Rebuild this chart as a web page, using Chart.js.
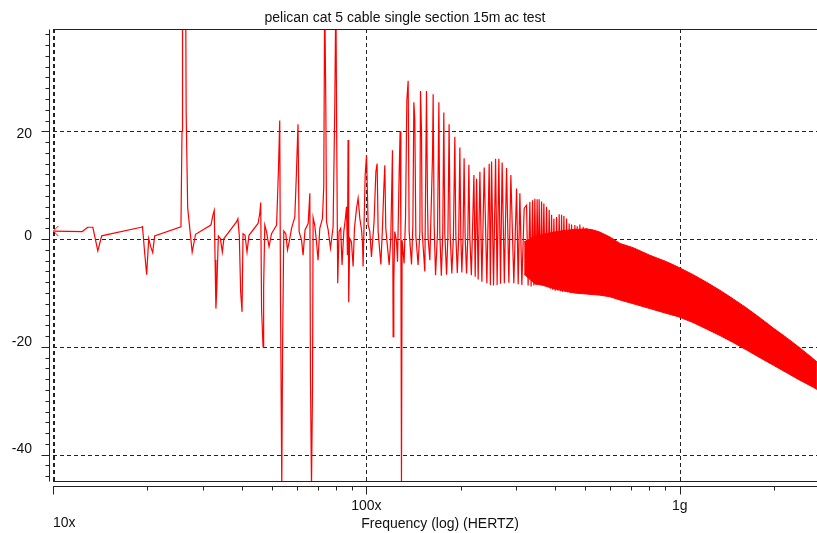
<!DOCTYPE html>
<html>
<head>
<meta charset="utf-8">
<title>pelican cat 5 cable single section 15m ac test</title>
<script src="https://cdn.jsdelivr.net/npm/chart.js@4/dist/chart.umd.min.js"></script>
<style>
  body { margin: 0; background: #fff; }
  #wrap { width: 817px; height: 533px; }
</style>
</head>
<body>
<div id="wrap"><canvas id="sweep" width="817" height="533"></canvas></div>
<script>
var chartTitle = 'pelican cat 5 cable single section 15m ac test';
var axisTitle = 'Frequency (log) (HERTZ)';

// swept trace: frequency and level
var freq = [
  10.1, 12.4, 12.9, 13.4, 13.9, 14.3, 19.1, 19.3, 19.6, 19.9, 20.2, 20.5, 20.8, 21.1,
  25.6, 25.8, 25.9, 26.5, 26.6, 26.9, 27.8, 28.5, 31.9,
  32.4, 32.7, 32.9, 33.1, 33.3, 33.7, 34.2, 34.7, 35.1, 38.5, 38.9, 39.3, 39.7, 40.1,
  40.4, 41.0, 41.6, 42.2, 45.1, 45.7, 46.0, 46.3, 46.8, 47.0, 47.4, 48.0, 48.9, 49.8,
  51.7, 52.4, 52.9, 53.2, 53.7, 54.0, 54.5, 55.3, 56.0, 56.7, 57.7, 59.1, 59.8, 60.5,
  61.0, 62.1, 62.8, 63.7, 65.2, 66.0, 66.3, 66.8, 67.3, 67.6, 68.4, 69.3, 70.1, 71.0,
  72.4, 73.1, 73.6, 74.2, 74.6, 75.5, 76.8, 78.3, 79.3, 79.9, 80.4, 81.0, 81.8, 82.8,
  83.6, 84.7, 85.8, 86.4, 87.0, 87.4, 87.8, 88.5, 89.6, 90.7, 91.6, 93.0, 94.1, 95.3,
  96.5, 97.2, 97.6, 99.1, 100.1, 101.3,
  102.5, 103.8, 105.8, 107.2, 108.2, 109.0, 111.2, 112.5, 113.6, 114.5, 115.3, 118.2,
  119.6, 121.1, 121.7, 122.3, 123.2, 124.8, 125.7, 127.2, 128.1, 128.8, 129.4, 130.0,
  131.9, 133.3, 134.6, 135.9, 136.9, 139.3, 140.7, 141.7, 142.7, 143.8, 146.2, 148.1,
  148.8, 149.9, 150.6, 153.6, 155.5, 156.7, 157.4, 159.4, 162.6, 163.3, 164.5, 166.2,
  168.6, 170.3, 171.5, 173.4, 175.2, 176.6, 177.9, 180.2, 182.0, 183.6, 185.0, 187.3,
  189.5, 191.5, 192.9, 195.0, 197.0, 198.7, 200.1, 201.6, 203.4, 205.0, 206.6, 208.7,
  210.6, 212.3, 213.8, 216.2, 220.3, 222.4, 224.7, 227.3, 230.2, 233.6, 237.6, 242.3,
  246.5, 248.6, 250.8, 254.5, 258.3, 261.3, 264.6, 267.9, 271.1, 275.5, 280.0, 284.8,
  289.0, 295.4, 301.4, 305.0, 308.8, 313.3, 318.7,
  324.3, 328.1, 332.3, 335.4, 339.0, 342.2, 344.7, 347.8, 350.6, 353.2, 355.8, 359.0,
  362.2, 365.1, 368.3, 371.9, 375.7, 379.3, 383.0, 386.4, 389.8, 393.0, 396.5, 400.3,
  404.4, 408.3, 412.2, 415.9, 419.5, 422.9, 426.7, 430.8, 435.2, 439.4, 443.6, 447.5,
  451.5, 456.8, 462.5, 466.6, 470.4, 474.9, 479.8, 485.9, 491.6, 497.8, 504.1
];
var level = [
  1.5, 1.4, 2.2, 2.2, -2.2, 0.6, 2.2, 2.3, -2.4, -6.6, 0.1, -1.4, -2.5, 0.6,
  2.3, 20, 46, 46, 23.5, 5.8, -2.4, 0.9, 2.6,
  4.5, 5.3, -3.9, -12.9, -9.5, 0.6, 0.1, -2.4, 0.1, 3.2, 3.8, 0.7, -9.8, -13.5,
  1.0, 0.7, -2.4, 0.7, 2.9, 4.8, 6.8, -13.2, -20, -8.9, 2.6, 1.4, -1.4, 1.0,
  2.6, 12.8, 22, -11, -46, -21.2, 1.5, 1.0, -2.0, -0.5, 2.0, 4.1, 12.2, 21.3,
  1.4, -0.2, -3.0, 1.7, 2.9, 8.5, -25.6, -46, -27.8, 4.0, 2.6, -0.5, -3.9, 2.0,
  3.8, 9.7, 46, 25.5, 3.2, 1.7, -1.7, 2.3, 25.5, 46, 18.7, -8.2, 1.4, 2.0,
  -4.8, 1.4, 4.1, 6.0, -3.0, 18.4, -11.7, 0.1, -0.5, -5.1, 2.0, 5.7, 7.6, 3.8,
  1.7, -0.8, -5.1, 11.9, 15.6, 2.6,
  1.5, -3.3, 3.3, 12.5, 14.0, 1.4, -4.7, 2.0, 9.1, 13.7, 2.0, -4.8,
  0.0, 16.5, -18.1, -7.9, 1.4, -0.5, -4.2, 12.2, 20.0, 2.0, -46, -0.2,
  -4.5, 3.9, 25.8, 29.4, 1.4, -4.7, 2.6, 25.4, 22.2, 0.6, -4.8, 1.4,
  27.5, 20.0, 1.4, -6.0, 27.5, 6.3, 0.1, -3.9, 15.9, 26.9, 2.6, -6.7,
  1.2, 25.4, 1.0, -6.8, 0.8, 23.5, 1.0, -6.6, 0.6, 21.3, 1.0, -6.4,
  0.5, 19.0, 0.8, -6.3, 0.4, 17.0, 0.6, -6.2, 0.3, 15.0, 0.4, -6.4,
  0.2, 13.8, 0.3, -6.7, 11.9, -7.0, 11.2, -7.5, 12.5, -7.9, 13.3, -8.2,
  14.0, -8.5, 14.4, -8.6, 14.9, -8.5, 14.9, -8.3, 14.2, -8.2, 13.2, -8.1,
  11.9, -8.2, 9.4, -8.4, 8.5, -8.5, 5.7,
  6.3, -8.6, 6.9, -8.8, 7.2, -8.6, 7.5, -8.5, 7.4, -8.4, 7.4, -8.5,
  7.0, -8.6, 6.6, -8.8, 6.0, -9.0, 5.4, -9.2, 4.5, -9.4, 3.8, -9.6,
  4.1, -9.6, 4.6, -9.7, 4.5, -9.8, 4.3, -9.8, 3.8, -9.9, 2.9, -10.0,
  2.7, -10.0, 2.6, -10.1, 2.4, -10.1, 2.7, -10.2, 2.3, -10.2, 2.0
];

// dense comb from ~300 upward: top and bottom of the band
var bandFreq = [318.7, 344.7, 368.3, 396.5, 426.7, 462.5, 504.1, 529.3, 555.9, 598.3, 644.0, 710.2, 802.8,
                907.7, 988.3, 1103, 1217, 1343, 1481, 1634, 1801, 1987, 2192, 2417, 2666, 2739];
var bandHigh = [-0.5, 0.5, 0.9, 1.3, 1.6, 1.8, 1.9, 1.7, 1.3, 0.4, -0.8, -1.6, -3.0,
                -4.2, -5.2, -6.6, -8.0, -9.5, -11.1, -12.8, -14.6, -16.5, -18.3, -20.2, -22.2, -22.8];
var bandLow = [-6.5, -8.3, -8.6, -9.2, -9.6, -10.0, -10.2, -10.3, -10.4, -10.7, -11.3, -12.0, -12.9,
               -13.8, -14.4, -15.5, -16.7, -17.9, -19.2, -20.6, -22.0, -23.4, -24.8, -26.2, -27.5, -27.9];

var yTicks = [20, 0, -20, -40];
var yLabels = ['20', '0', '-20', '-40'];
var xTicks = [10, 100, 1000];
var xLabels = ['10x', '100x', '1g'];

var yMin = -44.9, yMax = 39;
var xMin = 10, xMax = 2740;

function pairs(xs, ys) {
  return xs.map(function (x, i) { return { x: x, y: ys[i] }; });
}

var ink = '#222';
var textFont = '14px "Liberation Sans", Arial, sans-serif';
// the scope software sits its y labels a little off the grid lines
var yLabelShift = [3, -3, -5, -5];

function hline(ctx, x0, x1, y) {
  ctx.beginPath(); ctx.moveTo(x0, y); ctx.lineTo(x1, y); ctx.stroke();
}
function vline(ctx, x, y0, y1) {
  ctx.beginPath(); ctx.moveTo(x, y0); ctx.lineTo(x, y1); ctx.stroke();
}

var scopeAxes = {
  id: 'scopeAxes',
  beforeDatasetsDraw: function (chart) {
    var ctx = chart.ctx, a = chart.chartArea;
    var xs = chart.scales.x, ys = chart.scales.y;
    ctx.save();
    ctx.strokeStyle = ink;
    ctx.lineWidth = 1;
    ctx.setLineDash([4, 3]);
    yTicks.forEach(function (v) {
      hline(ctx, a.left, a.right, Math.round(ys.getPixelForValue(v)) + 0.5);
    });
    xTicks.forEach(function (v, i) {
      var x = Math.round(xs.getPixelForValue(v)) + 0.5;
      ctx.lineWidth = i === 0 ? 2 : 1;
      vline(ctx, i === 0 ? x + 0.5 : x, a.top, a.bottom);
    });
    ctx.restore();
  },
  afterDraw: function (chart) {
    var ctx = chart.ctx, a = chart.chartArea;
    var xs = chart.scales.x, ys = chart.scales.y;
    var top = Math.round(a.top) + 0.5, bottom = Math.round(a.bottom) + 0.5;
    var yAxisX = Math.round(a.left) - 3.5, xAxisY = bottom + 5;
    ctx.save();
    ctx.strokeStyle = ink;
    ctx.lineWidth = 1;

    // plot frame
    hline(ctx, a.left, a.right, top);
    hline(ctx, a.left, a.right, bottom);

    // y axis with minor ticks every 2
    vline(ctx, yAxisX, top, bottom);
    for (var v = -44; v <= 38; v += 2) {
      var y = Math.round(ys.getPixelForValue(v)) + 0.5;
      hline(ctx, yAxisX - (v % 20 === 0 ? 8 : 4), yAxisX, y);
    }

    // x axis with decade and minor ticks
    hline(ctx, a.left, a.right, xAxisY);
    for (var d = 10; d <= xMax; d *= 10) {
      for (var k = 1; k <= 9; k++) {
        var f = d * k;
        if (f > xMax) break;
        var x = Math.round(xs.getPixelForValue(f)) + 0.5;
        vline(ctx, x, xAxisY, xAxisY + (k === 1 ? 8 : 4));
      }
    }

    // start marker on the trace
    var px = xs.getPixelForValue(freq[0]) - 1, py = ys.getPixelForValue(level[0]);
    ctx.strokeStyle = '#ff0000';
    ctx.beginPath();
    ctx.moveTo(px + 5, py - 5); ctx.lineTo(px, py); ctx.lineTo(px + 5, py + 5);
    ctx.stroke();

    // labels
    ctx.fillStyle = '#111';
    ctx.font = textFont;
    ctx.textBaseline = 'middle';
    ctx.textAlign = 'right';
    yTicks.forEach(function (v, i) {
      ctx.fillText(yLabels[i], 32, ys.getPixelForValue(v) + yLabelShift[i]);
    });
    ctx.textAlign = 'left';
    ctx.fillText(xLabels[0], a.left, 523);
    ctx.textAlign = 'center';
    for (var i = 1; i < xTicks.length; i++) {
      ctx.fillText(xLabels[i], xs.getPixelForValue(xTicks[i]), 506);
    }
    ctx.fillText(axisTitle, 440, 524);
    ctx.fillText(chartTitle, 405, 18);
    ctx.restore();
  }
};

new Chart(document.getElementById('sweep'), {
  type: 'line',
  data: {
    datasets: [
      { data: pairs(bandFreq, bandHigh), borderColor: '#ff0000', borderWidth: 1, pointRadius: 0, fill: false },
      { data: pairs(bandFreq, bandLow), borderColor: '#ff0000', borderWidth: 1, pointRadius: 0,
        fill: '-1', backgroundColor: '#ff0000' },
      { data: pairs(freq, level), borderColor: '#ff0000', borderWidth: 1.2, pointRadius: 0, fill: false }
    ]
  },
  options: {
    responsive: false,
    animation: false,
    layout: { padding: { left: 53, top: 29, right: 0, bottom: 52 } },
    elements: { line: { tension: 0 } },
    scales: {
      x: { type: 'logarithmic', min: xMin, max: xMax, display: false },
      y: { type: 'linear', min: yMin, max: yMax, display: false }
    },
    plugins: { legend: { display: false }, tooltip: { enabled: false } }
  },
  plugins: [scopeAxes]
});
</script>
</body>
</html>
